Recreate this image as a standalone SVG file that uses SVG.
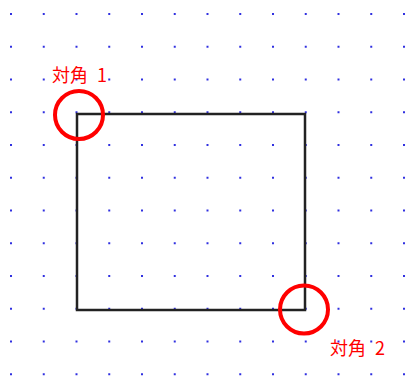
<svg xmlns="http://www.w3.org/2000/svg" width="409" height="376" viewBox="0 0 409 376">
<style>
.lbl{font-family:"Noto Sans CJK JP","Liberation Sans",sans-serif;font-size:18px;fill:#ff0000;word-spacing:5px}
.mark{fill:none;stroke:#ff0000;stroke-width:4}
</style>
<defs>
<pattern id="grid" patternUnits="userSpaceOnUse" x="10" y="13" width="32.75" height="32.75">
<rect x="0" y="0" width="2" height="2" fill="#2f2fe0"/>
</pattern>
</defs>
<rect width="409" height="376" fill="#ffffff"/>
<rect id="dots" width="409" height="376" fill="url(#grid)"/>
<g id="rectangle">
<rect x="77" y="114" width="228" height="196" fill="none" stroke="#222222" stroke-width="2.5"/>
</g>
<g id="corner1">
<circle class="mark" cx="79" cy="115" r="24"/>
<text class="lbl" x="52" y="82" xml:space="preserve">対角 1</text>
</g>
<g id="corner2">
<circle class="mark" cx="304" cy="309.5" r="24"/>
<text class="lbl" x="330" y="355" xml:space="preserve">対角 2</text>
</g>
</svg>
